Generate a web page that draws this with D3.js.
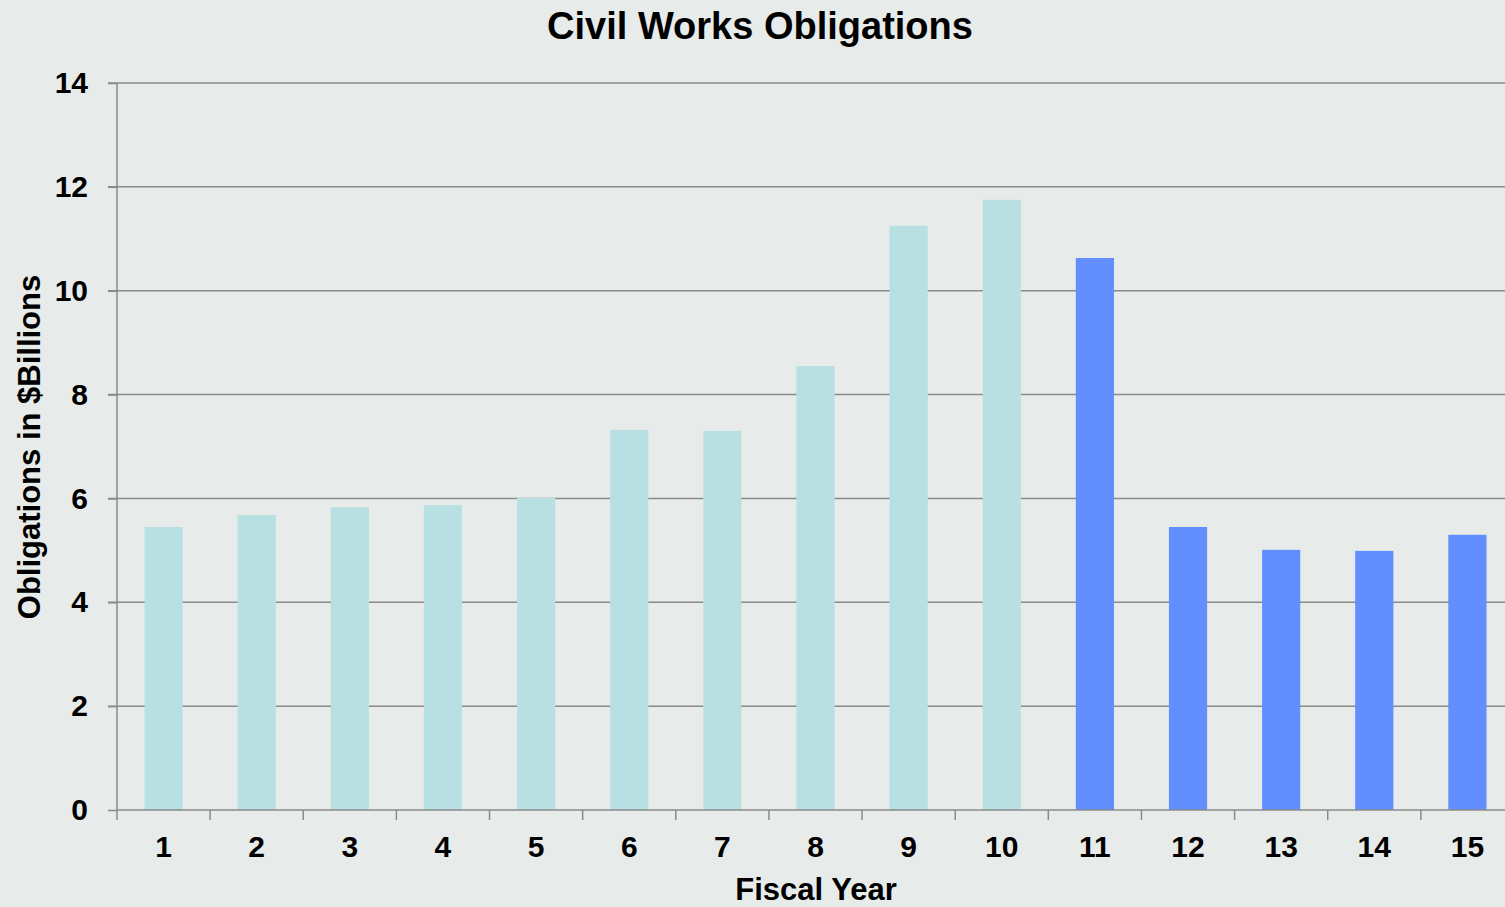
<!DOCTYPE html>
<html><head><meta charset="utf-8">
<script src="https://cdn.jsdelivr.net/npm/d3@7"></script>
<style>html,body{margin:0;padding:0;overflow:hidden;background:#e7ebe9;}svg{display:block;font-family:"Liberation Sans",Arial,sans-serif;}</style>
</head><body><svg id="c" width="1505" height="907"></svg>
<script>
const categories = ["1","2","3","4","5","6","7","8","9","10","11","12","13","14","15"];
const values = [5.45, 5.68, 5.83, 5.87, 6.01, 7.32, 7.30, 8.55, 11.25, 11.75, 10.63, 5.45, 5.01, 4.99, 5.30];
const groups = ["past","past","past","past","past","past","past","past","past","past","future","future","future","future","future"];
const yTicks = [0,2,4,6,8,10,12,14];
const colors = {past:"#b8e0e2", future:"#638ffe"};

const svg = d3.select("#c");
const W = 1505, H = 907;
svg.append("rect").attr("width",W).attr("height",H).attr("fill","#e7ebe9");

const x = d3.scaleBand().domain(categories).range([117, 1514]).paddingInner(0.59).paddingOuter(0.295);
const y = d3.scaleLinear().domain([0,14]).range([810, 83]);

// gridlines
svg.append("g").selectAll("line").data(yTicks.filter(d=>d>0)).join("line")
  .attr("x1",108).attr("x2",W).attr("y1",d=>y(d)).attr("y2",d=>y(d))
  .attr("stroke","#8a8a8a").attr("stroke-width",1.5);

// bars
svg.append("g").selectAll("rect").data(values).join("rect")
  .attr("x",(d,i)=>x(categories[i])).attr("width",x.bandwidth())
  .attr("y",d=>y(d)).attr("height",d=>y(0)-y(d))
  .attr("fill",(d,i)=>colors[groups[i]]);

// y axis
const yAxis = svg.append("g").attr("transform","translate(117,0)")
  .call(d3.axisLeft(y).tickValues(yTicks).tickSize(9).tickPadding(20));
yAxis.selectAll("line").attr("stroke","#8a8a8a").attr("stroke-width",1.5);
yAxis.select(".domain").attr("stroke","#8a8a8a").attr("stroke-width",1.5).attr("d","M0,810V83");
yAxis.selectAll("text").attr("font-size",30).attr("font-weight","bold").attr("fill","#000")
  .attr("font-family","Liberation Sans, Arial, sans-serif");

// x axis
const xAxis = svg.append("g").attr("transform","translate(0,810)")
  .call(d3.axisBottom(x).tickSize(0).tickPadding(26));
xAxis.select(".domain").attr("stroke","#8a8a8a").attr("stroke-width",1.5).attr("d","M117,0H1505");
xAxis.selectAll("text").attr("font-size",30).attr("font-weight","bold").attr("fill","#000")
  .attr("font-family","Liberation Sans, Arial, sans-serif");
// boundary ticks
const step = x.step();
const bounds = d3.range(0,16).map(i=>117+i*step).filter(v=>v<=W);
svg.append("g").selectAll("line").data(bounds).join("line")
  .attr("x1",d=>d).attr("x2",d=>d).attr("y1",810).attr("y2",820)
  .attr("stroke","#8a8a8a").attr("stroke-width",1.5);

// titles
svg.append("text").attr("x",760).attr("y",39).attr("text-anchor","middle")
  .attr("font-size",38).attr("font-weight","bold").text("Civil Works Obligations");
svg.append("text").attr("x",816).attr("y",900).attr("text-anchor","middle")
  .attr("font-size",31).attr("font-weight","bold").text("Fiscal Year");
svg.append("text").attr("transform","translate(40,447) rotate(-90)").attr("text-anchor","middle")
  .attr("font-size",31).attr("font-weight","bold").text("Obligations in $Billions");
</script></body></html>
